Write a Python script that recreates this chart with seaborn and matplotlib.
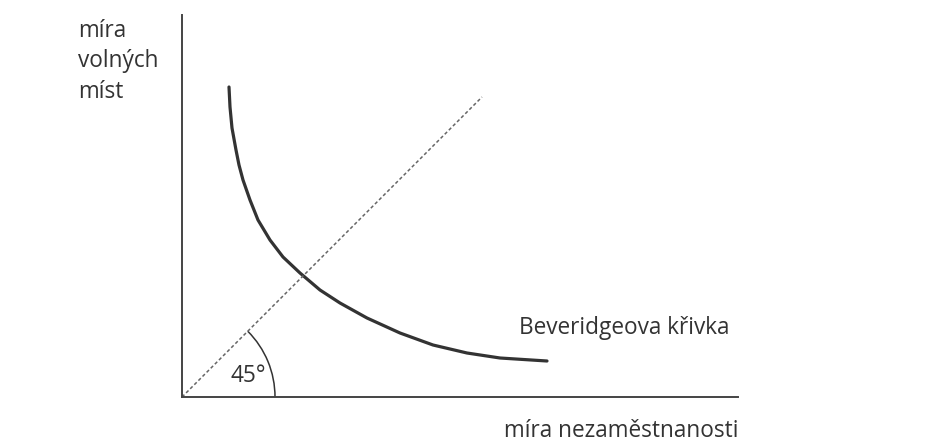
import numpy as np
import pandas as pd
import seaborn as sns
import matplotlib.pyplot as plt
from matplotlib.patches import Arc

# Beveridge curve (units: unemployment rate vs vacancy rate)
unemployment = [0.47, 0.48, 0.50, 0.54, 0.57, 0.61, 0.68, 0.76, 0.88, 1.01,
                1.18, 1.38, 1.58, 1.85, 2.18, 2.51, 2.85, 3.18, 3.65]
vacancies = [3.10, 2.90, 2.69, 2.47, 2.32, 2.17, 1.97, 1.77, 1.57, 1.40,
             1.24, 1.07, 0.94, 0.79, 0.64, 0.52, 0.44, 0.39, 0.36]
diag_x = [0.0, 3.0]
diag_y = [0.0, 3.0]
angle_deg = 45

y_label = "míra\nvolných\nmíst"
x_label = "míra nezaměstnanosti"
curve_label = "Beveridgeova křivka"

sns.set_style("white")
plt.rcParams['font.family'] = ['Open Sans', 'DejaVu Sans']

fig = plt.figure(figsize=(9.37, 4.43), dpi=100)
ax = fig.add_axes([182 / 937, 46 / 443, 556 / 937, 382 / 443])

curve = pd.DataFrame({"u": unemployment, "v": vacancies})
diag = pd.DataFrame({"u": diag_x, "v": diag_y})

sns.lineplot(data=curve, x="u", y="v", ax=ax, color="#333333", lw=2.3,
             sort=False, estimator=None, solid_joinstyle="round")
sns.lineplot(data=diag, x="u", y="v", ax=ax, color="#666666", lw=1.1,
             linestyle=(0, (2.2, 1.6)), estimator=None)

ax.add_patch(Arc((0, 0), 1.86, 1.86, theta1=0, theta2=angle_deg,
                 color="#333333", lw=1.1))

ax.set_xlim(0, 5.56)
ax.set_ylim(0, 3.82)
ax.set_xticks([])
ax.set_yticks([])
ax.set_xlabel("")
ax.set_ylabel("")
sns.despine(ax=ax)
for side in ("left", "bottom"):
    ax.spines[side].set_color("#444444")
    ax.spines[side].set_linewidth(1.4)

txt = dict(color="#333333", fontsize=16.3, clip_on=False)
ax.text(-1.04, 3.78, y_label, ha="left", va="top", linespacing=1.36, **txt)
ax.text(3.37, 0.63, curve_label, ha="left", va="baseline", **txt)
ax.text(5.56, -0.40, x_label, ha="right", va="baseline", **txt)
ax.text(0.665, 0.215, f"{angle_deg}°", ha="center", va="center", **txt)

fig.savefig("out.png", dpi=100, facecolor="white")
